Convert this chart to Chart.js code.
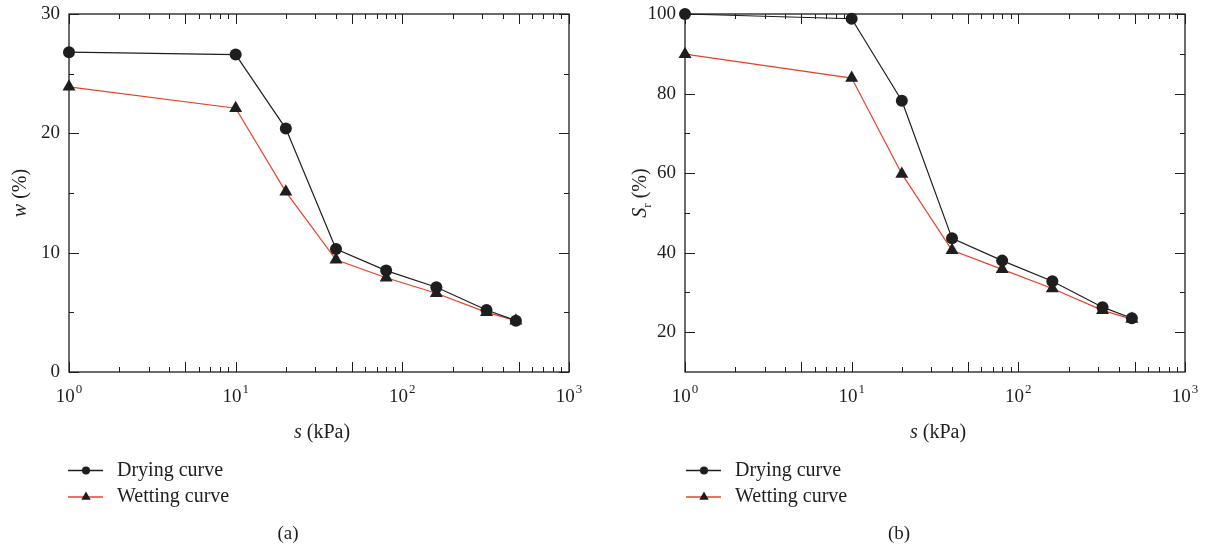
<!DOCTYPE html>
<html>
<head>
<meta charset="utf-8">
<script src="https://cdn.jsdelivr.net/npm/chart.js@4.4.1/dist/chart.umd.min.js"></script>
<style>
  body { margin: 0; background: #fff; width: 1207px; height: 552px; overflow: hidden; position: relative; }
  canvas { position: absolute; top: 0; }
</style>
</head>
<body>
<canvas id="chartA" width="603" height="552" style="left:0"></canvas>
<canvas id="chartB" width="604" height="552" style="left:603px"></canvas>
<script>
// suction steps (kPa) and measured values
const suction = [1, 10, 20, 40, 80, 160, 320, 480];
const wDrying = [26.8, 26.6, 20.4, 10.3, 8.5, 7.1, 5.2, 4.3];
const wWetting = [23.9, 22.1, 15.1, 9.4, 7.9, 6.6, 5.0, 4.3];
const srDrying = [100, 98.8, 78.2, 43.6, 38.0, 32.8, 26.3, 23.5];
const srWetting = [89.9, 83.9, 59.8, 40.6, 35.8, 31.0, 25.5, 23.3];

const xTicks = [1, 10, 100, 1000];
const wTicks = [0, 10, 20, 30];
const wMinor = [5, 15, 25];
const srTicks = [20, 40, 60, 80, 100];
const srMinor = [30, 50, 70, 90];
const seriesNames = ['Drying curve', 'Wetting curve'];

const SERIF = '"Liberation Serif", "DejaVu Serif", serif';
const INK = '#1e1e1e';
const RED = '#e8402a';

function points(ys) {
  return suction.map((s, i) => ({ x: s, y: ys[i] }));
}

// text made of runs with their own style (italic symbol, subscript, ...)
function drawRuns(ctx, runs, cx, cy, vertical) {
  const fontOf = r => `${r.italic ? 'italic ' : ''}${r.size || 20}px ${SERIF}`;
  let total = 0;
  runs.forEach(r => { ctx.font = fontOf(r); r.w = ctx.measureText(r.t).width; total += r.w; });
  ctx.save();
  ctx.translate(cx, cy);
  if (vertical) ctx.rotate(-Math.PI / 2);
  ctx.textBaseline = 'alphabetic';
  ctx.textAlign = 'left';
  let px = -total / 2;
  runs.forEach(r => {
    ctx.font = fontOf(r);
    ctx.fillText(r.t, px, 7 + (r.dy || 0));
    px += r.w;
  });
  ctx.restore();
}

function marker(ctx, style, x, y, r) {
  ctx.beginPath();
  if (style === 'circle') {
    ctx.arc(x, y, r, 0, Math.PI * 2);
  } else {
    ctx.moveTo(x, y - r);
    ctx.lineTo(x + r * 0.866, y + r * 0.5);
    ctx.lineTo(x - r * 0.866, y + r * 0.5);
    ctx.closePath();
  }
  ctx.fill();
}

const framePlugin = {
  id: 'frame',
  afterDraw(chart, args, o) {
    const { ctx, chartArea: a } = chart;
    const x = chart.scales.x, y = chart.scales.y;
    ctx.save();
    ctx.strokeStyle = INK;
    ctx.fillStyle = INK;
    ctx.lineWidth = 1.3;
    ctx.strokeRect(a.left, a.top, a.right - a.left, a.bottom - a.top);

    // inward ticks on all four sides
    ctx.lineWidth = 1;
    ctx.beginPath();
    xTicks.slice(0, -1).forEach(d => {
      for (let k = 1; k <= 10; k++) {
        const px = Math.round(x.getPixelForValue(k * d)) + 0.5;
        const len = (k === 1 || k === 5 || k === 10) ? 10 : 5;
        ctx.moveTo(px, a.bottom); ctx.lineTo(px, a.bottom - len);
        ctx.moveTo(px, a.top); ctx.lineTo(px, a.top + len);
      }
    });
    const yTick = (v, len) => {
      const py = Math.round(y.getPixelForValue(v)) + 0.5;
      ctx.moveTo(a.left, py); ctx.lineTo(a.left + len, py);
      ctx.moveTo(a.right, py); ctx.lineTo(a.right - len, py);
    };
    o.major.forEach(v => yTick(v, 10));
    o.minor.forEach(v => yTick(v, 5));
    ctx.stroke();

    // decade labels 10^n
    ctx.textAlign = 'left';
    ctx.textBaseline = 'alphabetic';
    xTicks.forEach(v => {
      const px = x.getPixelForValue(v);
      const e = String(Math.round(Math.log10(v)));
      ctx.font = `19px ${SERIF}`;
      const wb = ctx.measureText('10').width;
      ctx.font = `13px ${SERIF}`;
      const we = ctx.measureText(e).width;
      const x0 = px - (wb + we + 1) / 2;
      ctx.font = `19px ${SERIF}`;
      ctx.fillText('10', x0, a.bottom + 30);
      ctx.font = `13px ${SERIF}`;
      ctx.fillText(e, x0 + wb + 1, a.bottom + 21);
    });

    // axis titles
    drawRuns(ctx, [{ t: 's', italic: true }, { t: ' (kPa)' }], (a.left + a.right) / 2 + 3, a.bottom + 59, false);
    drawRuns(ctx, o.yTitle, o.yTitleX, (a.top + a.bottom) / 2, true);

    // legend
    chart.data.datasets.forEach((ds, i) => {
      const ly = o.legendY[i];
      ctx.strokeStyle = ds.borderColor;
      ctx.lineWidth = 1.5;
      ctx.beginPath();
      ctx.moveTo(o.legendX, ly); ctx.lineTo(o.legendX + 35, ly);
      ctx.stroke();
      ctx.fillStyle = INK;
      marker(ctx, ds.pointStyle, o.legendX + 18, ly, ds.pointStyle === 'circle' ? 4 : 5.5);
      ctx.font = `20px ${SERIF}`;
      ctx.textBaseline = 'middle';
      ctx.fillText(ds.label, o.legendX + 49, ly);
    });

    // panel tag
    ctx.font = `19px ${SERIF}`;
    ctx.textAlign = 'center';
    ctx.textBaseline = 'middle';
    ctx.fillText(o.tag, o.tagX, 534);
    ctx.restore();
  }
};

function makeChart(id, cfg) {
  return new Chart(document.getElementById(id), {
    type: 'line',
    data: {
      datasets: [
        {
          label: seriesNames[0], data: points(cfg.dry),
          borderColor: INK, backgroundColor: INK, pointBorderColor: INK,
          borderWidth: 1.2, pointStyle: 'circle', pointRadius: 6, pointBorderWidth: 0,
          tension: 0, clip: false
        },
        {
          label: seriesNames[1], data: points(cfg.wet),
          borderColor: RED, backgroundColor: INK, pointBorderColor: INK,
          borderWidth: 1.2, pointStyle: 'triangle', pointRadius: 7.5, pointBorderWidth: 0,
          tension: 0, clip: false
        }
      ]
    },
    options: {
      responsive: false,
      animation: false,
      devicePixelRatio: 1,
      layout: { padding: { left: 0, right: cfg.padRight, top: 14, bottom: 120 } },
      plugins: {
        legend: { display: false },
        tooltip: { enabled: false },
        frame: {
          major: cfg.yTicks, minor: cfg.yMinor, yTitle: cfg.yTitle, yTitleX: cfg.yTitleX,
          legendX: cfg.legendX, legendY: [470.5, 497], tag: cfg.tag, tagX: cfg.tagX
        }
      },
      scales: {
        x: {
          type: 'logarithmic', min: 1, max: 1000,
          grid: { display: false, drawTicks: false }, border: { display: false },
          ticks: { display: false },
          afterBuildTicks: s => { s.ticks = xTicks.map(v => ({ value: v })); },
          afterFit: s => { s.height = 60; s.paddingLeft = 0; s.paddingRight = 0; }
        },
        y: {
          type: 'linear', min: cfg.yMin, max: cfg.yMax,
          grid: { display: false, drawTicks: false }, border: { display: false },
          ticks: { color: INK, font: { family: SERIF, size: 19 }, padding: 9 },
          afterBuildTicks: s => { s.ticks = cfg.yTicks.map(v => ({ value: v })); },
          afterFit: s => { s.width = cfg.yWidth; s.paddingTop = 0; s.paddingBottom = 0; }
        }
      }
    },
    plugins: [framePlugin]
  });
}

makeChart('chartA', {
  dry: wDrying, wet: wWetting, yMin: 0, yMax: 30, yTicks: wTicks, yMinor: wMinor,
  yWidth: 69, padRight: 34, yTitleX: 19, legendX: 68, tag: '(a)', tagX: 288,
  yTitle: [{ t: 'w', italic: true }, { t: ' (%)' }]
});
makeChart('chartB', {
  dry: srDrying, wet: srWetting, yMin: 10, yMax: 100, yTicks: srTicks, yMinor: srMinor,
  yWidth: 82, padRight: 22, yTitleX: 36, legendX: 83, tag: '(b)', tagX: 296,
  yTitle: [{ t: 'S', italic: true }, { t: 'r', size: 13, dy: 5 }, { t: ' (%)' }]
});
</script>
</body>
</html>
